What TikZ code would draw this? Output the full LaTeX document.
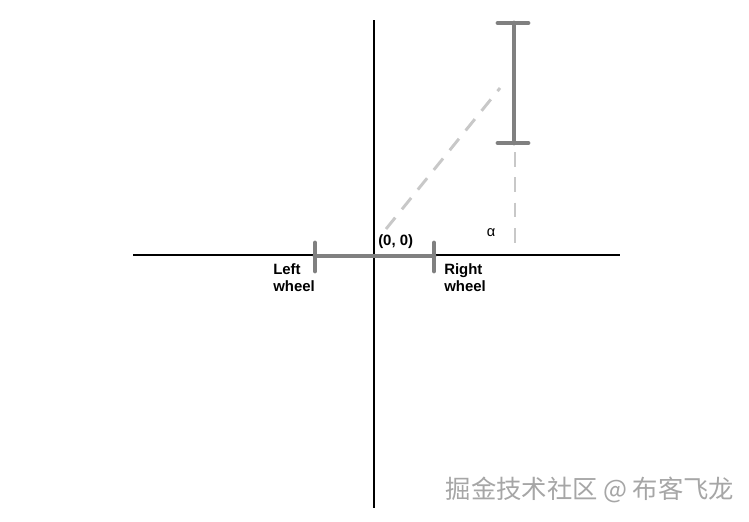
\documentclass[tikz,border=0pt]{standalone}
\usepackage{fontspec}
\setmainfont{Liberation Sans}
\newfontfamily\cjk{Noto Sans CJK SC}
\definecolor{axlegray}{RGB}{128,128,128}
\definecolor{dashgray}{RGB}{200,200,200}
\begin{document}
\begin{tikzpicture}[x=0.75pt,y=-0.75pt,
  axis/.style={line width=2.2pt,black},
  bar/.style={line width=3.6pt,axlegray,line cap=round},
  guide/.style={line width=2.2pt,dashgray,dash pattern=on 11pt off 8pt},
  lbl/.style={font=\bfseries\fontsize{11.2}{13}\selectfont,inner sep=0pt,align=left}]
\useasboundingbox (0,0) rectangle (749,521);
\fill[white] (0,0) rectangle (749,521);
% axes
\coordinate (xl) at (133,255); \coordinate (xr) at (620,255);
\coordinate (yt) at (374,20); \coordinate (yb) at (374,508);
\draw[axis] (xl) -- (xr);
\draw[axis] (yt) -- (yb);
% axle with wheels
\coordinate (lw) at (315,256); \coordinate (rw) at (434,256);
\coordinate (lwt) at (315,243); \coordinate (lwb) at (315,271);
\coordinate (rwt) at (434,243); \coordinate (rwb) at (434,271);
\draw[bar] (lw) -- (rw);
\draw[bar] (lwt) -- (lwb);
\draw[bar] (rwt) -- (rwb);
% moved robot
\coordinate (ut) at (514,23); \coordinate (ub) at (514,143);
\coordinate (utl) at (498,23); \coordinate (utr) at (528,23);
\coordinate (ubl) at (498,143); \coordinate (ubr) at (528,143);
\draw[bar] (ut) -- (ub);
\draw[bar] (utl) -- (utr);
\draw[bar] (ubl) -- (ubr);
% guides
\coordinate (d1) at (386,229); \coordinate (d2) at (500,88);
\coordinate (v1) at (515,152); \coordinate (v2) at (515,246);
\draw[guide] (d1) -- (d2);
\draw[guide] (v1) -- (v2);
% labels
\node[lbl,anchor=west] (origin) at (378,242) {(0, 0)};
\node[lbl,anchor=north west] (left) at (273,263) {Left\\wheel};
\node[lbl,anchor=north west] (right) at (444,263) {Right\\wheel};
\node[font=\fontsize{11}{12}\selectfont,inner sep=0pt] (alpha) at (491,233) {α};
\node[font=\cjk\fontsize{19}{22}\selectfont,text=gray!70,inner sep=0pt] (wm) at (590,490) {掘金技术社区 @ 布客飞龙};
\end{tikzpicture}
\end{document}
